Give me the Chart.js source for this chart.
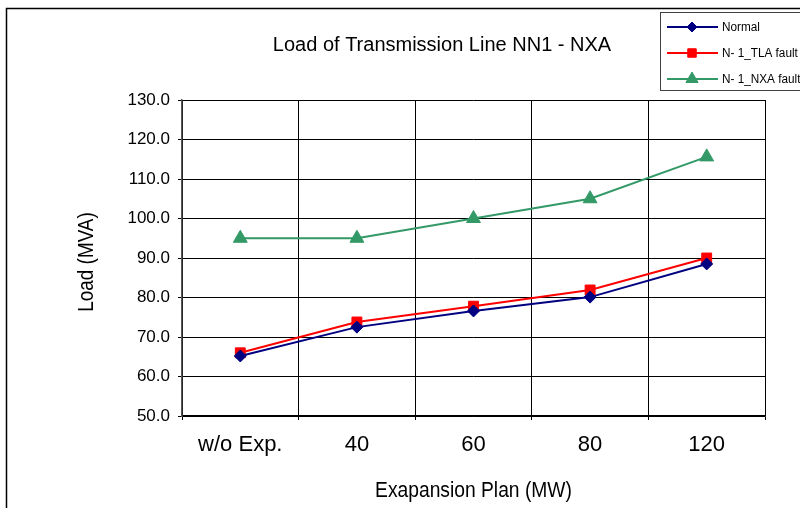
<!DOCTYPE html>
<html lang="en">
    <head>
        <meta charset="UTF-8" />
        <title>Load of Transmission Line NN1 - NXA</title>
        <script src="https://cdn.jsdelivr.net/npm/chart.js"></script>
        <style>
            body,
            html {
                margin: 0;
                padding: 0;
                background: #ffffff;
            }
            #wrap {
                width: 800px;
                height: 508px;
                position: relative;
            }
        </style>
    </head>
    <body>
        <div id="wrap"><canvas id="loadChart"></canvas></div>
        <script>
            // values
            const plans = ["w/o Exp.", "40", "60", "80", "120"];
            const normalLoad = [65.2, 72.5, 76.6, 80.1, 88.5];
            const tlaFaultLoad = [66.0, 73.8, 77.8, 81.9, 90.0];
            const nxaFaultLoad = [95.0, 95.0, 100.0, 105.0, 115.6];
            const seriesNames = ["Normal", "N- 1_TLA fault", "N- 1_NXA fault"];

            const chartTitle = "Load of Transmission Line NN1 - NXA";
            const xTitle = "Exapansion Plan (MW)";
            const yTitle = "Load (MVA)";

            const regular = "'Liberation Sans', Arial, sans-serif";

            // the original uses a narrow face; squeeze the text horizontally
            function narrowText(ctx, text, x, y, squeeze) {
                ctx.save();
                ctx.translate(x, y);
                ctx.scale(squeeze, 1);
                ctx.fillText(text, 0, 0);
                ctx.restore();
            }

            // frame, title, axis titles and the boxed legend
            const decorations = {
                id: "decorations",
                afterDraw(chart) {
                    const ctx = chart.ctx;
                    const area = chart.chartArea;
                    ctx.save();

                    // outer frame
                    ctx.strokeStyle = "#000000";
                    ctx.lineWidth = 1.5;
                    ctx.beginPath();
                    ctx.moveTo(6.5, 510);
                    ctx.lineTo(6.5, 8.5);
                    ctx.lineTo(802, 8.5);
                    ctx.stroke();

                    ctx.fillStyle = "#000000";
                    ctx.textAlign = "center";
                    ctx.textBaseline = "middle";
                    ctx.font = "20px " + regular;
                    ctx.fillText(chartTitle, 442, 45);

                    ctx.font = "22px " + regular;
                    narrowText(ctx, xTitle, (area.left + area.right) / 2, 491, 0.875);

                    ctx.save();
                    ctx.translate(87, 262);
                    ctx.rotate(-Math.PI / 2);
                    narrowText(ctx, yTitle, 0, 0, 0.86);
                    ctx.restore();

                    // legend box
                    ctx.fillStyle = "#ffffff";
                    ctx.fillRect(660, 12, 160, 78);
                    ctx.strokeStyle = "#404040";
                    ctx.lineWidth = 1;
                    ctx.strokeRect(660.5, 12.5, 160, 78);

                    chart.data.datasets.forEach((ds, i) => {
                        const y = 27 + i * 26;
                        ctx.strokeStyle = ds.borderColor;
                        ctx.fillStyle = ds.backgroundColor;
                        ctx.lineWidth = 2;
                        ctx.beginPath();
                        ctx.moveTo(667, y);
                        ctx.lineTo(718, y);
                        ctx.stroke();
                        ctx.lineWidth = 1;
                        Chart.helpers.drawPoint(
                            ctx,
                            {
                                pointStyle: ds.pointStyle,
                                radius: ds.pointRadius - 1,
                                borderWidth: 1,
                                rotation: 0,
                            },
                            692,
                            y
                        );
                        ctx.fillStyle = "#000000";
                        ctx.textAlign = "left";
                        ctx.font = "12px " + regular;
                        narrowText(ctx, ds.label, 722, y + 1, 0.98);
                    });

                    ctx.restore();
                },
            };

            const ctx = document.getElementById("loadChart").getContext("2d");

            new Chart(ctx, {
                type: "line",
                data: {
                    labels: plans,
                    datasets: [
                        {
                            label: seriesNames[0],
                            data: normalLoad,
                            borderColor: "#000080",
                            backgroundColor: "#000080",
                            pointStyle: "rectRot",
                            pointRadius: 6,
                        },
                        {
                            label: seriesNames[1],
                            data: tlaFaultLoad,
                            borderColor: "#ff0000",
                            backgroundColor: "#ff0000",
                            pointStyle: "rect",
                            pointRadius: 7,
                        },
                        {
                            label: seriesNames[2],
                            data: nxaFaultLoad,
                            borderColor: "#339966",
                            backgroundColor: "#339966",
                            pointStyle: "triangle",
                            pointRadius: 8,
                        },
                    ],
                },
                options: {
                    responsive: true,
                    maintainAspectRatio: false,
                    animation: false,
                    elements: {
                        line: { borderWidth: 2, tension: 0 },
                        point: { borderWidth: 1 },
                    },
                    layout: {
                        padding: { top: 100, right: 35, bottom: 0, left: 0 },
                    },
                    plugins: {
                        legend: { display: false },
                        title: { display: false },
                        tooltip: { enabled: false },
                    },
                    scales: {
                        x: {
                            offset: true,
                            grid: {
                                offset: true,
                                color: "#000000",
                                lineWidth: 1,
                                tickLength: 4,
                            },
                            border: { color: "#000000", width: 1.5 },
                            ticks: {
                                color: "#000000",
                                font: { family: regular, size: 22 },
                                padding: 12,
                                maxRotation: 0,
                            },
                            afterFit(scale) {
                                scale.height = 92;
                            },
                        },
                        y: {
                            min: 50,
                            max: 130,
                            grid: {
                                color: "#000000",
                                lineWidth: 1,
                                tickLength: 4,
                            },
                            border: { color: "#555555", width: 1.5 },
                            ticks: {
                                stepSize: 10,
                                color: "#000000",
                                font: { family: regular, size: 17 },
                                padding: 8,
                                callback: (v) => v.toFixed(1),
                            },
                            afterFit(scale) {
                                scale.width = 182;
                            },
                        },
                    },
                },
                plugins: [decorations],
            });
        </script>
    </body>
</html>
